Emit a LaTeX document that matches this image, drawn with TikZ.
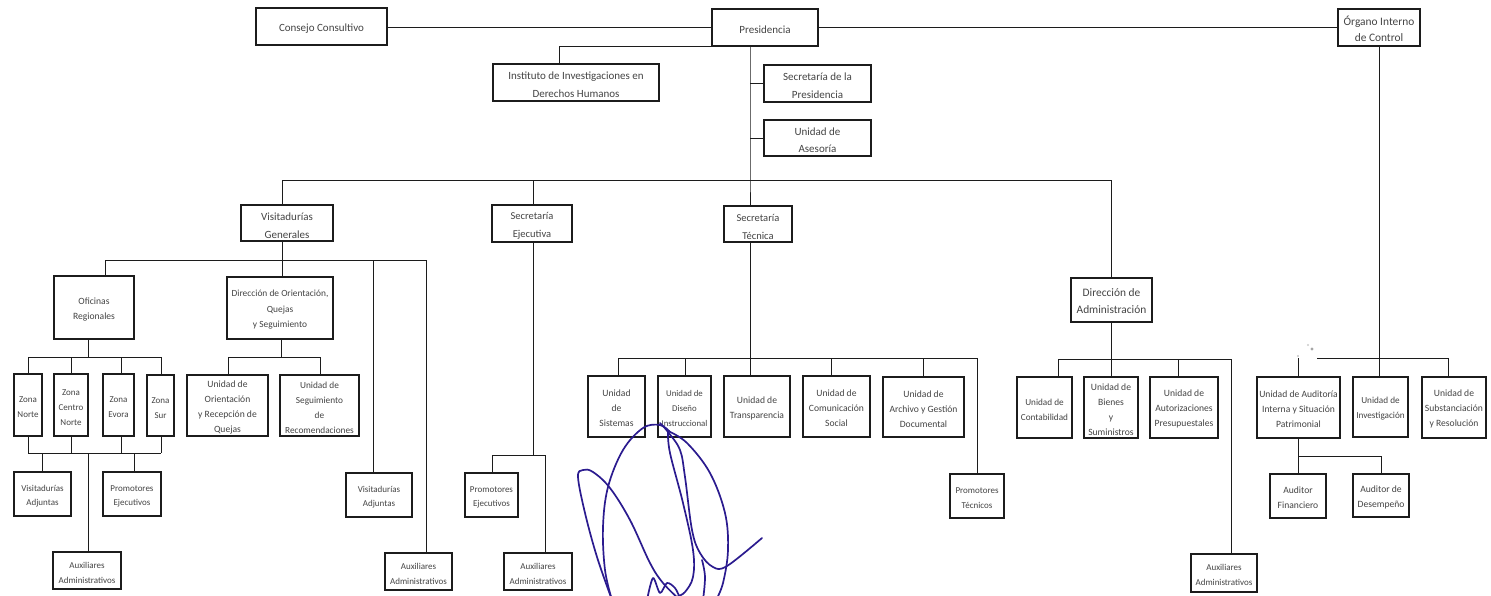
\documentclass[tikz,border=0pt]{standalone}
\usepackage{fontspec}
\setmainfont{Carlito}
\definecolor{ink}{HTML}{1C1C1C}
\definecolor{txt}{HTML}{444444}
\definecolor{sig}{HTML}{2B1B8F}
\tikzset{
  orgbox/.style={draw=ink,line width=1.4pt,fill=white,inner sep=0pt,align=center,text=txt},
  ftop/.style={font=\fontsize{11}{17.5}\selectfont},
  fsec/.style={font=\fontsize{10.5}{18}\selectfont},
  fsmall/.style={font=\fontsize{9}{14.6}\selectfont},
  fmid/.style={font=\fontsize{9.6}{15}\selectfont},
  fzona/.style={font=\fontsize{9}{15}\selectfont},
  fbig/.style={font=\fontsize{11.4}{17}\selectfont},
  link/.style={draw=ink,line width=0.9pt},
  ink stroke/.style={draw=sig,line width=1.7pt,line cap=round,line join=round}
}
\newcommand{\lift}{10.5pt}
\newcommand{\orgbb}[7][]{%
  \pgfmathsetmacro{\cxx}{(#3+#5)/2}\pgfmathsetmacro{\cyy}{(#4+#6)/2}%
  \pgfmathsetmacro{\wdd}{#5-#3}\pgfmathsetmacro{\htt}{#6-#4}%
  \node[orgbox,minimum width=\wdd pt,minimum height=\htt pt,#1] (#2) at (\cxx,\cyy) {\rule{0pt}{\lift}#7};}
\begin{document}
\begin{tikzpicture}[x=1pt,y=-1pt]
\useasboundingbox (0,0) rectangle (1491,595);
\fill[white] (0,0) rectangle (1491,595);
% ---------- coordinates of buses and junctions
\coordinate (tr) at (750,46);
\coordinate (ii) at (559,46);
\coordinate (h1a) at (282,180);
\coordinate (h1b) at (533,180);
\coordinate (h1c) at (750,180);
\coordinate (h1d) at (1111,180);
\coordinate (v1) at (282,260);
\coordinate (v2) at (105,260);
\coordinate (v3) at (373,260);
\coordinate (v4) at (426,260);
\coordinate (o0) at (88,357);
\coordinate (o1) at (28,357);
\coordinate (o2) at (71,357);
\coordinate (o3) at (121,357);
\coordinate (o4) at (161,357);
\coordinate (p1) at (28,453);
\coordinate (p2) at (71,453);
\coordinate (p3) at (121,453);
\coordinate (p4) at (161,453);
\coordinate (p5) at (42,453);
\coordinate (p6) at (134,453);
\coordinate (p7) at (88,453);
\coordinate (q0) at (281,357);
\coordinate (q1) at (228,357);
\coordinate (q2) at (320,357);
\coordinate (e0) at (533,455);
\coordinate (e1) at (492,455);
\coordinate (e2) at (545,455);
\coordinate (t0) at (750,358);
\coordinate (t1) at (618,358);
\coordinate (t2) at (685,358);
\coordinate (t3) at (831,358);
\coordinate (t4) at (923,358);
\coordinate (t5) at (977,358);
\coordinate (a0) at (1111,359);
\coordinate (a1) at (1058,359);
\coordinate (a2) at (1178,359);
\coordinate (a3) at (1231,359);
\coordinate (c0) at (1379,358);
\coordinate (c1) at (1298,358);
\coordinate (c1b) at (1317,358);
\coordinate (c2) at (1448,358);
\coordinate (d0) at (1298,456);
\coordinate (d1) at (1381,456);
% ---------- boxes
\renewcommand{\lift}{12.5pt}
\orgbb[ftop]{cons}{256}{8}{387}{45}{Consejo Consultivo}
\orgbb[ftop]{pres}{712}{9}{818}{46}{Presidencia}
\orgbb[font=\fontsize{11.4}{16}\selectfont]{oic}{1338}{9}{1420}{46}{Órgano Interno\\de Control}
\orgbb[ftop]{inst}{493}{64}{659}{101}{Instituto de Investigaciones en\\Derechos Humanos}
\orgbb[ftop]{secp}{764}{65}{871}{102}{Secretaría de la\\Presidencia}
\orgbb[ftop]{ase}{764}{120}{871}{156}{Unidad de\\Asesoría}
\orgbb[font=\fontsize{11}{18}\selectfont]{vis}{241}{205}{333}{241}{Visitadurías\\Generales}
\orgbb[fsec]{sej}{492}{205}{572}{242}{Secretaría\\Ejecutiva}
\orgbb[fsec]{ste}{724}{206}{792}{242}{Secretaría\\Técnica}
\renewcommand{\lift}{10.5pt}
\orgbb[font=\fontsize{9.6}{15.5}\selectfont]{ofi}{54}{276}{134}{339}{Oficinas\\Regionales}
\orgbb[font=\fontsize{9.4}{15.5}\selectfont]{dor}{227}{277}{333}{339}{Dirección de Orientación,\\Quejas\\y Seguimiento}
\orgbb[fzona]{zn}{14}{374}{42}{436}{Zona\\Norte}
\orgbb[fzona]{zc}{54}{374}{88}{436}{Zona\\Centro\\Norte}
\orgbb[fzona]{ze}{103}{374}{134}{436}{Zona\\Evora}
\orgbb[fzona]{zs}{147}{375}{174}{436}{Zona\\Sur}
\orgbb[fmid]{uor}{187}{375}{268}{436}{Unidad de\\Orientación\\y Recepción de\\Quejas}
\orgbb[font=\fontsize{9.3}{15}\selectfont]{use}{280}{375}{359}{436}{Unidad de\\Seguimiento\\de\\Recomendaciones}
\orgbb[fsmall]{va1}{14}{472}{71}{516}{Visitadurías\\Adjuntas}
\orgbb[fsmall]{pe1}{103}{472}{161}{516}{Promotores\\Ejecutivos}
\orgbb[fsmall]{au1}{53}{552}{121}{589}{Auxiliares\\Administrativos}
\orgbb[fsmall]{va2}{346}{473}{412}{517}{Visitadurías\\Adjuntas}
\orgbb[fsmall]{au2}{385}{553}{452}{590}{Auxiliares\\Administrativos}
\orgbb[fsmall]{pe2}{465}{473}{518}{517}{Promotores\\Ejecutivos}
\orgbb[fsmall]{au3}{504}{553}{572}{590}{Auxiliares\\Administrativos}
\orgbb[fmid]{sis}{588}{376}{645}{437}{Unidad\\de\\Sistemas}
\orgbb[font=\fontsize{8.8}{15}\selectfont]{dis}{658}{376}{711}{437}{Unidad de\\Diseño\\Instruccional}
\orgbb[fmid]{tra}{724}{376}{790}{437}{Unidad de\\Transparencia}
\orgbb[fmid]{com}{803}{376}{870}{437}{Unidad de\\Comunicación\\Social}
\orgbb[fmid]{arc}{883}{377}{964}{437}{Unidad de\\Archivo y Gestión\\Documental}
\orgbb[fsmall]{pt}{950}{474}{1004}{518}{Promotores\\Técnicos}
\orgbb[fbig]{dad}{1071}{278}{1152}{322}{Dirección de\\Administración}
\orgbb[font=\fontsize{9.2}{15}\selectfont]{con}{1017}{377}{1072}{438}{Unidad de\\Contabilidad}
\orgbb[fmid]{bie}{1084}{377}{1138}{438}{Unidad de\\Bienes\\y\\Suministros}
\orgbb[fmid]{aut}{1150}{377}{1218}{438}{Unidad de\\Autorizaciones\\Presupuestales}
\orgbb[fsmall]{au4}{1191}{554}{1257}{592}{Auxiliares\\Administrativos}
\orgbb[fmid]{aud}{1257}{377}{1340}{438}{Unidad de Auditoría\\Interna y Situación\\Patrimonial}
\orgbb[font=\fontsize{9.2}{15}\selectfont]{inv}{1353}{377}{1408}{437}{Unidad de\\Investigación}
\orgbb[fmid]{sub}{1422}{377}{1486}{438}{Unidad de\\Substanciación\\y Resolución}
\orgbb[fmid]{afi}{1270}{474}{1326}{518}{Auditor\\Financiero}
\orgbb[fmid]{ade}{1353}{474}{1409}{517}{Auditor de\\Desempeño}
% ---------- connectors
\draw[link] (cons.east |- pres.west) -- (pres.west);
\draw[link] (pres.east) -- (oic.west |- pres.east);
\draw[link] (tr) -- (h1c) -- (tr |- ste.north);
\draw[link] (tr) -- (ii) -- (ii |- inst.north);
\draw[link] (tr |- secp.west) -- (secp.west);
\draw[link] (tr |- ase.west) -- (ase.west);
\draw[link] (h1a) -- (h1d) -- (h1d |- dad.north);
\draw[link] (h1a) -- (h1a |- vis.north);
\draw[link] (h1b) -- (h1b |- sej.north);
\draw[link] (h1a |- vis.south) -- (v1);
\draw[link] (v2) -- (v4) -- (v4 |- au2.north);
\draw[link] (v2) -- (v2 |- ofi.north);
\draw[link] (v1) -- (v1 |- dor.north);
\draw[link] (v3) -- (v3 |- va2.north);
\draw[link] (o0 |- ofi.south) -- (o0);
\draw[link] (o1) -- (o4);
\draw[link] (o1) -- (zn.north -| o1);
\draw[link] (o2) -- (zc.north -| o2);
\draw[link] (o3) -- (ze.north -| o3);
\draw[link] (o4) -- (zs.north -| o4);
\draw[link] (p1) -- (p4);
\draw[link] (zn.south -| p1) -- (p1);
\draw[link] (zc.south -| p2) -- (p2);
\draw[link] (ze.south -| p3) -- (p3);
\draw[link] (zs.south -| p4) -- (p4);
\draw[link] (p5) -- (p5 |- va1.north);
\draw[link] (p6) -- (p6 |- pe1.north);
\draw[link] (p7) -- (p7 |- au1.north);
\draw[link] (q0 |- dor.south) -- (q0);
\draw[link] (q1) -- (q2);
\draw[link] (q1) -- (q1 |- uor.north);
\draw[link] (q2) -- (q2 |- use.north);
\draw[link] (e0 |- sej.south) -- (e0);
\draw[link] (e1) -- (e2);
\draw[link] (e1) -- (e1 |- pe2.north);
\draw[link] (e2) -- (e2 |- au3.north);
\draw[link] (t0 |- ste.south) -- (t0 |- tra.north);
\draw[link] (t1) -- (t5) -- (t5 |- pt.north);
\draw[link] (t1) -- (t1 |- sis.north);
\draw[link] (t2) -- (t2 |- dis.north);
\draw[link] (t3) -- (t3 |- com.north);
\draw[link] (t4) -- (t4 |- arc.north);
\draw[link] (a0 |- dad.south) -- (a0 |- bie.north);
\draw[link] (a1) -- (a3) -- (a3 |- au4.north);
\draw[link] (a1) -- (a1 |- con.north);
\draw[link] (a2) -- (a2 |- aut.north);
\draw[link] (c0 |- oic.south) -- (c0 |- inv.north);
\draw[link] (c1b) -- (c2) -- (c2 |- sub.north);
\draw[link] (c1) -- (c1 |- aud.north);
\draw[link] (c1 |- aud.south) -- (c1 |- afi.north);
\draw[link] (d0) -- (d1) -- (d1 |- ade.north);
% ---------- scan specks
\fill[gray!70] (1312,349) circle (1.6pt);
\fill[gray!40] (1308,345) circle (1.2pt);
\fill[gray!45] (1298,356) circle (1.2pt);
% ---------- handwritten signature
\begin{scope}
\clip (0,0) rectangle (1491,595);
\draw[ink stroke] plot[smooth,tension=0.6] coordinates {(762,538) (727,566) (713,567) (700,553) (692,530) (685,477) (680,450) (668,432) (660,423)};
\draw[ink stroke] plot[smooth,tension=0.6] coordinates {(668,432) (670,453) (683,503) (693,550) (693,577) (685,592) (678,596)};
\draw[ink stroke] plot[smooth,tension=0.6] coordinates {(668,431) (687,443) (710,473) (725,513) (728,550) (723,583) (716,600)};
\draw[ink stroke] plot[smooth,tension=0.6] coordinates {(670,432) (660,425) (643,428) (623,450) (608,487) (603,527) (605,570) (612,600)};
\draw[ink stroke] plot[smooth,tension=0.6] coordinates {(612,600) (597,557) (585,513) (578,477) (583,470) (593,472) (610,488) (630,520) (650,563) (663,583) (680,600)};
\draw[ink stroke] plot[smooth,tension=0.5] coordinates {(647,600) (653,578) (660,593) (667,583) (675,588) (680,598)};
\draw[ink stroke] plot[smooth,tension=0.6] coordinates {(702,560) (705,577) (703,600)};
\end{scope}
\end{tikzpicture}
\end{document}
